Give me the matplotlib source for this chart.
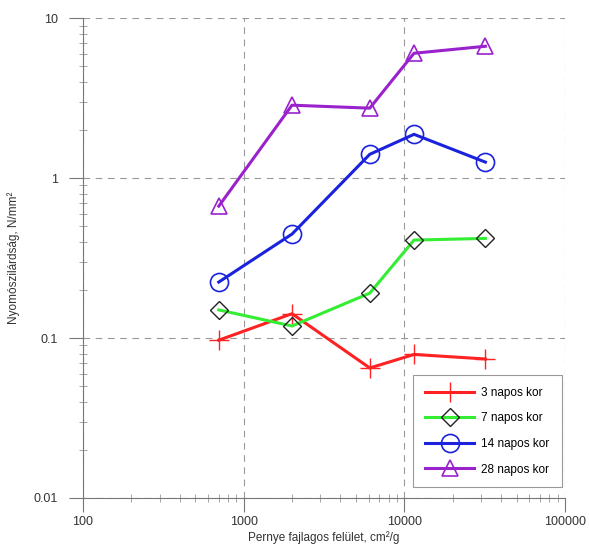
import matplotlib
matplotlib.use('Agg')
import matplotlib.pyplot as plt
from matplotlib.ticker import FixedLocator, FixedFormatter, LogLocator, NullFormatter

plt.rcParams['font.family'] = ['Liberation Sans', 'DejaVu Sans']

# fajlagos felulet, cm2/g
surface = [700, 2000, 6100, 11500, 32000]
day3 = [0.097, 0.142, 0.065, 0.079, 0.074]
day7 = [0.150, 0.119, 0.191, 0.41, 0.42]
day14 = [0.224, 0.447, 1.41, 1.88, 1.26]
day28 = [0.668, 2.86, 2.74, 6.04, 6.68]

x_ticks = [100, 1000, 10000, 100000]
x_labels = ['100', '1000', '10000', '100000']
y_ticks = [0.01, 0.1, 1, 10]
y_labels = ['0.01', '0.1', '1', '10']

fig = plt.figure(figsize=(5.89, 5.53), dpi=100)
ax = fig.add_axes([0.141, 0.0995, 0.818, 0.8675])

ax.plot(surface, day3, color='#ff2222', lw=2.2, marker='+', ms=14, mew=1.0,
        label='3 napos kor')
ax.plot(surface, day7, color='#33ee33', lw=2.2, marker='D', ms=9.5, mfc='none',
        mec='#222222', mew=1.0, label='7 napos kor')
ax.plot(surface, day14, color='#1a22dd', lw=2.2, marker='o', ms=13, mfc='none',
        mec='#1a22dd', mew=1.2, label='14 napos kor')
ax.plot(surface, day28, color='#9a22cc', lw=2.2, marker='^', ms=11, mfc='none',
        mec='#9a22cc', mew=1.2, label='28 napos kor')

ax.set_xscale('log')
ax.set_yscale('log')
ax.set_xlim(100, 100000)
ax.set_ylim(0.01, 10)

ax.xaxis.set_major_locator(FixedLocator(x_ticks))
ax.xaxis.set_major_formatter(FixedFormatter(x_labels))
ax.yaxis.set_major_locator(FixedLocator(y_ticks))
ax.yaxis.set_major_formatter(FixedFormatter(y_labels))
ax.xaxis.set_minor_locator(LogLocator(base=10, subs=range(2, 10)))
ax.yaxis.set_minor_locator(LogLocator(base=10, subs=range(2, 10)))
ax.xaxis.set_minor_formatter(NullFormatter())
ax.yaxis.set_minor_formatter(NullFormatter())

ax.grid(True, which='major', ls=(0, (6, 5)), color='#999999', lw=0.8)
for s in ['top', 'right']:
    ax.spines[s].set_visible(False)
for s in ['left', 'bottom']:
    ax.spines[s].set_color('#777777')
    ax.spines[s].set_linewidth(0.8)

ax.tick_params(which='major', direction='out', length=10, width=0.8,
               color='#777777', labelsize=9, labelcolor='#333333')
ax.tick_params(which='minor', direction='inout', length=6, width=0.6,
               color='#999999')
ax.tick_params(axis='x', which='major', pad=3)
ax.tick_params(axis='y', which='major', pad=8)

ax.set_xlabel('Pernye fajlagos felület, cm²/g', fontsize=8.5, color='#333333',
              labelpad=2)
ax.set_ylabel('Nyomószilárdság, N/mm²', fontsize=8.5, color='#333333',
              labelpad=10)

leg = ax.legend(loc='upper left', bbox_to_anchor=(413 / 589, 1 - 375 / 553),
                bbox_transform=fig.transFigure, fontsize=8.5, frameon=True,
                fancybox=False, edgecolor='#999999', framealpha=1,
                handlelength=4.2, borderpad=1.0, labelspacing=1.15,
                handletextpad=0.6, borderaxespad=0)
leg.get_frame().set_linewidth(0.8)

fig.savefig('out.png', dpi=100)
plt.close(fig)
